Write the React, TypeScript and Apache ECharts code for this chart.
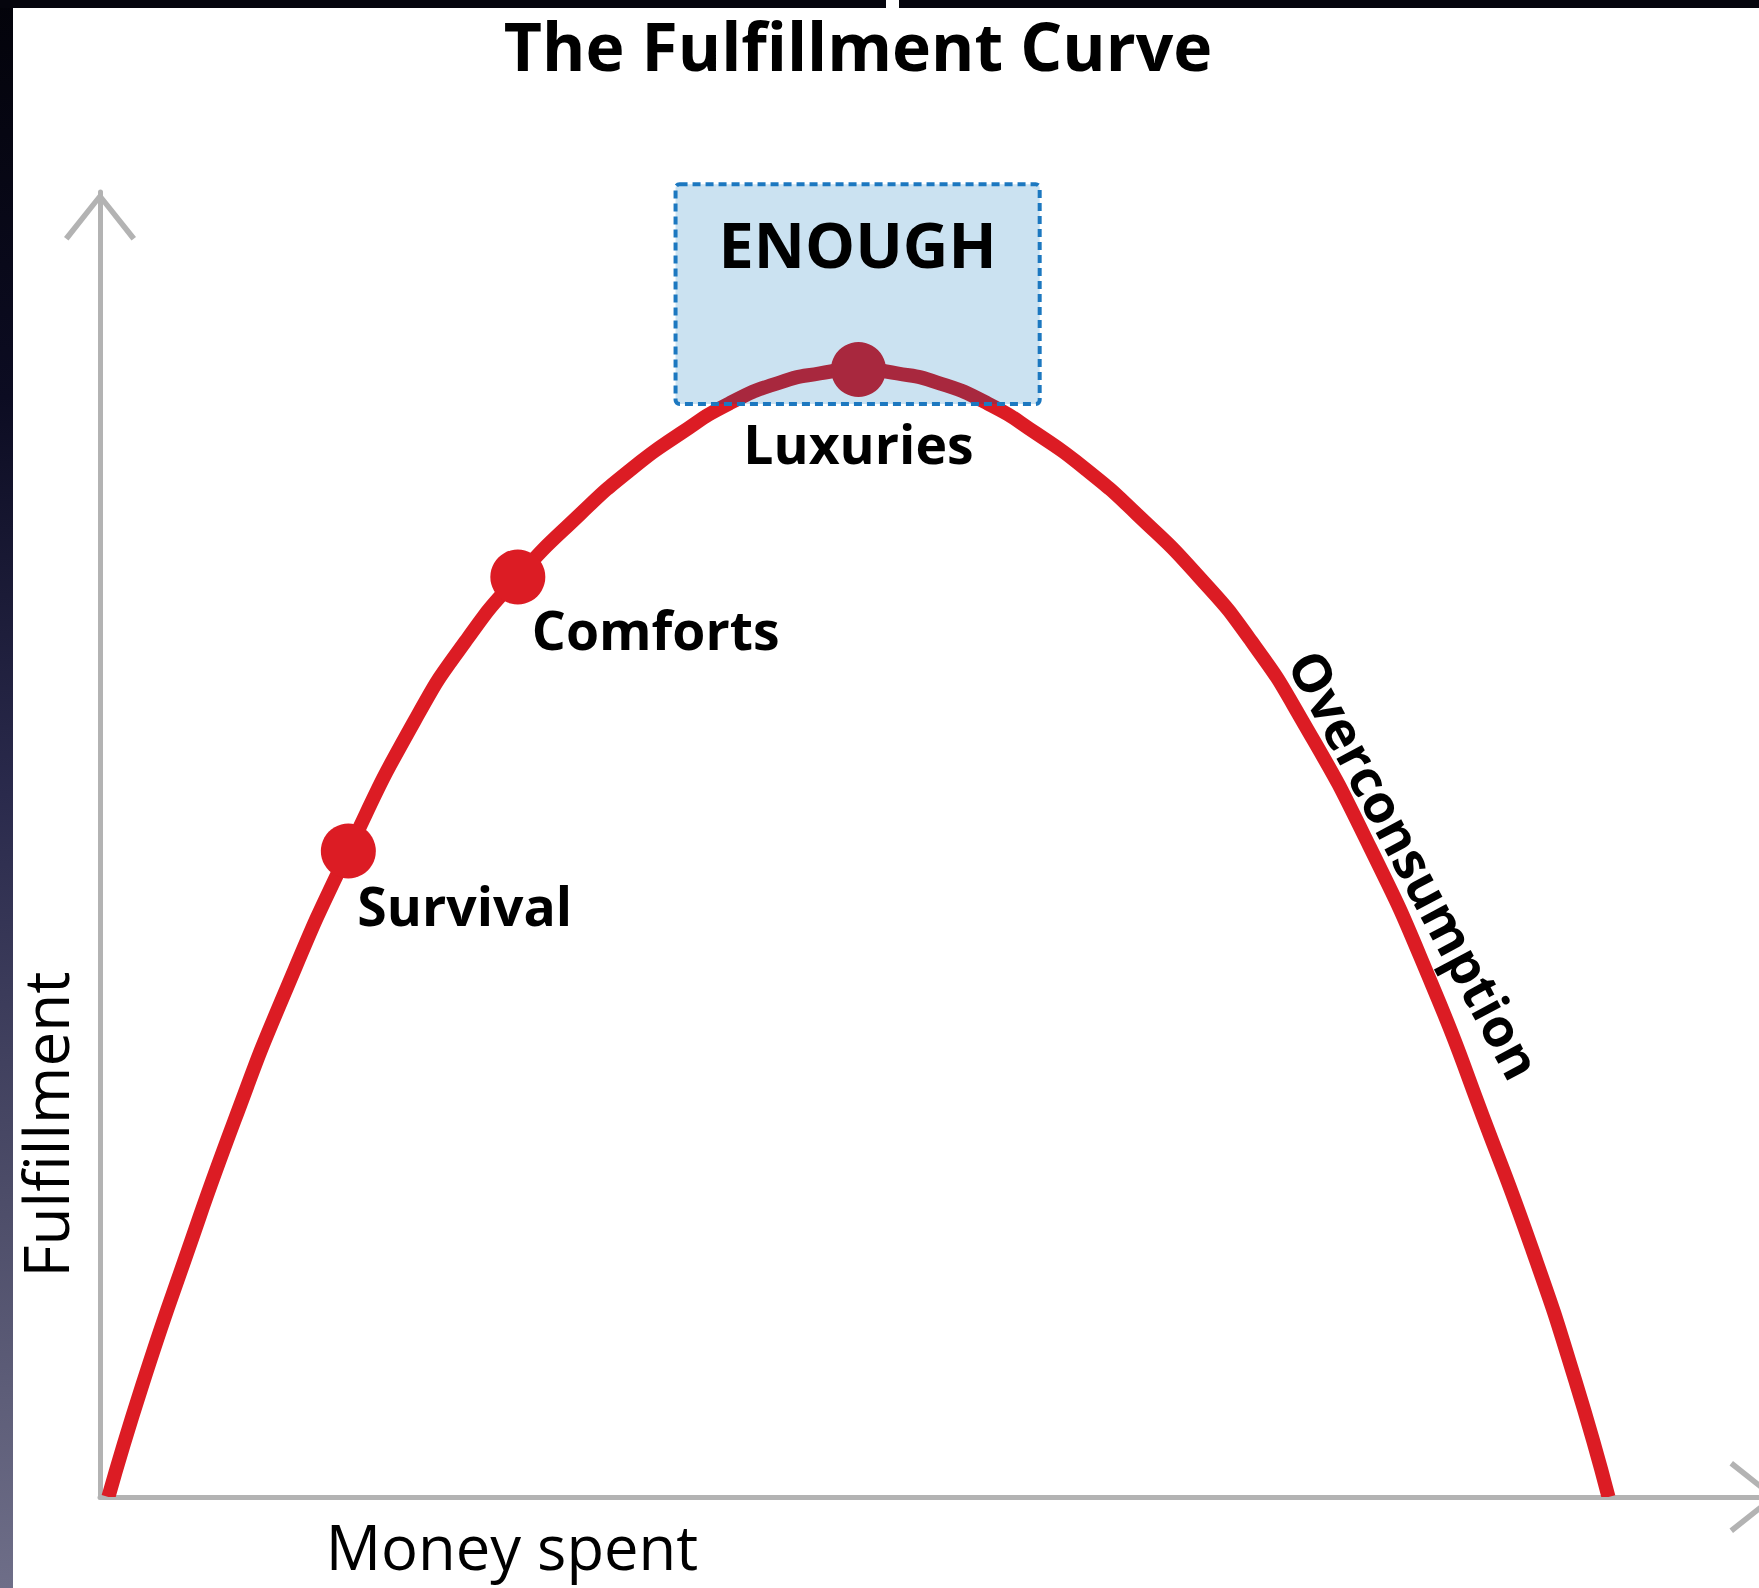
import React, { useEffect, useRef } from 'react';
import * as echarts from 'echarts';

// ---- data (abstract units: money spent 0..100, fulfillment 0..100) ----
const curveX = [0.5, 2.5, 5, 8, 11, 14.8, 18.8, 21.8, 24.9, 28.6, 31.6, 34.6, 37.5, 40.5, 42.9, 45.2, 47.5, 49.9, 52.9, 55.8, 58.8, 61.8, 65.5, 68.6, 71.6, 75.6, 79.4, 82.4, 85.4, 87.9, 89.9];
const curveY = [0, 8.5, 18.0, 28.8, 38.6, 49.5, 59.6, 65.6, 70.5, 75.3, 78.7, 81.5, 83.8, 85.4, 86.1, 86.4, 86.1, 85.4, 83.8, 81.5, 78.7, 75.3, 70.5, 65.6, 59.6, 50.0, 39.2, 29.2, 18.8, 9.0, 0];

const stageNames = ['Survival', 'Comforts', 'Luxuries'];
const stageX = [14.8, 24.9, 45.2];
const stageY = [49.5, 70.5, 86.4];

const enoughLabel = 'ENOUGH';
const enoughX = [34.3, 56.0];
const enoughY = [83.75, 100.6];

const overLabel = 'Overconsumption';
const overX = [78.4];
const overY = [48.5];

const titleText = 'The Fulfillment Curve';
const xName = 'Money spent';
const yName = 'Fulfillment';

export default function App() {
  const ref = useRef<HTMLDivElement>(null);

  useEffect(() => {
    if (!ref.current) return;
    const chart = echarts.init(ref.current, null, { renderer: 'svg' });
    const font = "'Open Sans', sans-serif";
    const red = '#dc1c24';
    const maroon = '#a8283e';
    const axisGray = '#b3b3b3';
    const arrow = 'path://M36,0 L72,45 L67.5,48.5 L36,8.5 L4.5,48.5 L0,45 Z';

    const stageStyles = [
      { color: red, align: 'left', offset: [9, 54] },
      { color: red, align: 'left', offset: [14, 53] },
      { color: maroon, align: 'center', offset: [0, 74] },
    ];

    const axisCommon = {
      type: 'value',
      min: 0,
      max: 100,
      nameLocation: 'middle',
      axisLine: {
        show: true,
        lineStyle: { color: axisGray, width: 5 },
        symbol: ['none', arrow],
        symbolSize: [72, 48.5],
        symbolOffset: [0, -24.25],
      },
      axisTick: { show: false },
      axisLabel: { show: false },
      splitLine: { show: false },
    };

    const boxRect = (api: any) => {
      const p0 = api.coord([api.value(0), api.value(3)]);
      const p1 = api.coord([api.value(2), api.value(1)]);
      return { x: p0[0], y: p0[1], width: p1[0] - p0[0], height: p1[1] - p0[1], r: 4 };
    };

    chart.setOption({
      animation: false,
      grid: { left: 100, right: 2, top: 192, bottom: 91 },
      xAxis: {
        ...axisCommon,
        name: xName,
        nameGap: 49,
        nameTextStyle: {
          fontFamily: font,
          fontSize: 61.5,
          color: '#000',
          verticalAlign: 'middle',
          padding: [0, 854, 0, 0],
        },
      },
      yAxis: {
        ...axisCommon,
        name: yName,
        nameGap: 55,
        nameTextStyle: {
          fontFamily: font,
          fontSize: 62,
          color: '#000',
          verticalAlign: 'middle',
          padding: [0, 560, 0, 0],
        },
      },
      visualMap: {
        type: 'piecewise',
        show: false,
        seriesIndex: 1,
        dimension: 1,
        pieces: [
          { gt: enoughY[0], lte: 100, color: maroon },
          { gte: 0, lte: enoughY[0], color: red },
        ],
      },
      series: [
        {
          type: 'custom',
          z: 1,
          silent: true,
          clip: false,
          data: [[enoughX[0], enoughY[0], enoughX[1], enoughY[1]]],
          renderItem: (_params: any, api: any) => ({
            type: 'rect',
            shape: boxRect(api),
            style: { fill: '#cbe2f1' },
          }),
        },
        {
          type: 'line',
          name: 'Fulfillment',
          data: curveX.map((x, i) => [x, curveY[i]]),
          smooth: 0.55,
          showSymbol: false,
          lineStyle: { width: 14 },
          z: 2,
          silent: true,
        },
        {
          type: 'scatter',
          z: 3,
          symbolSize: 55,
          silent: true,
          data: stageNames.map((n, i) => ({
            name: n,
            value: [stageX[i], stageY[i]],
            itemStyle: { color: stageStyles[i].color, opacity: 1 },
            label: {
              show: true,
              formatter: n,
              position: 'inside',
              align: stageStyles[i].align,
              verticalAlign: 'middle',
              offset: stageStyles[i].offset,
              fontFamily: font,
              fontWeight: 'bold',
              fontSize: 53.5,
              color: '#000',
              textBorderWidth: 0,
            },
          })),
        },
        {
          type: 'scatter',
          z: 4,
          symbolSize: 1,
          silent: true,
          itemStyle: { color: 'rgba(255,255,255,0)' },
          data: overX.map((x, i) => ({
            name: overLabel,
            value: [x, overY[i]],
            label: {
              show: true,
              formatter: overLabel,
              position: 'inside',
              rotate: -62,
              align: 'center',
              verticalAlign: 'middle',
              fontFamily: font,
              fontWeight: 'bold',
              fontSize: 53,
              color: '#000',
              opacity: 1,
              textBorderWidth: 0,
            },
          })),
        },
        {
          type: 'custom',
          z: 5,
          silent: true,
          clip: false,
          data: [[enoughX[0], enoughY[0], enoughX[1], enoughY[1]]],
          renderItem: (_params: any, api: any) => {
            const r = boxRect(api);
            return {
              type: 'group',
              children: [
                {
                  type: 'rect',
                  shape: r,
                  style: { fill: 'none', stroke: '#1c78c0', lineWidth: 4, lineDash: [8, 5] },
                },
                {
                  type: 'text',
                  x: r.x + r.width / 2,
                  y: r.y + 59,
                  style: {
                    text: enoughLabel,
                    fill: '#000',
                    font: `bold 63px ${font}`,
                    align: 'center',
                    verticalAlign: 'middle',
                  },
                },
              ],
            };
          },
        },
      ],
      graphic: [
        {
          type: 'text',
          x: 858,
          y: 45,
          silent: true,
          style: {
            text: titleText,
            fontFamily: font,
            fontWeight: 'bold',
            fontSize: 66,
            fill: '#000',
            textAlign: 'center',
            textVerticalAlign: 'middle',
          },
        },
      ],
    });

    return () => chart.dispose();
  }, []);

  return (
    <div style={{ position: 'absolute', left: 0, top: 0, width: 1759, height: 1588, overflow: 'hidden', background: '#fff' }}>
      <div ref={ref} style={{ position: 'absolute', left: 0, top: 0, width: 1780, height: 1588 }} />
      <div style={{ position: 'absolute', left: 0, top: 0, width: 13, height: 1588, background: 'linear-gradient(to bottom, #03030a 0%, #0c0c22 25%, #2a2a4c 50%, #4c4c68 75%, #6e6e88 100%)' }} />
      <div style={{ position: 'absolute', left: 0, top: 0, width: 886, height: 8, background: '#05050d' }} />
      <div style={{ position: 'absolute', left: 899, top: 0, width: 860, height: 8, background: '#05050d' }} />
    </div>
  );
}
